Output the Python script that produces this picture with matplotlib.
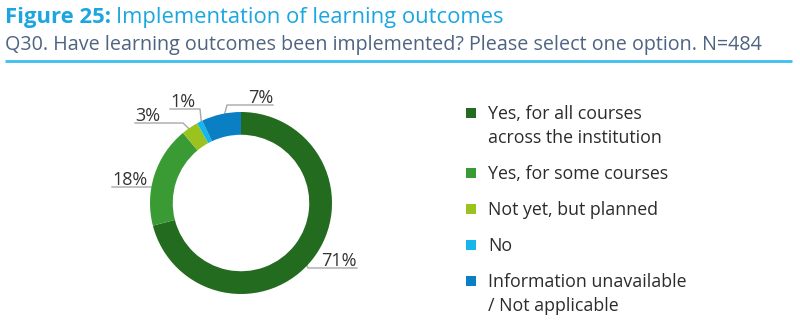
import matplotlib
matplotlib.use("Agg")
import numpy as np
import matplotlib.pyplot as plt
from matplotlib.patches import Rectangle

plt.rcParams['font.family'] = ['Open Sans', 'DejaVu Sans']

# survey answers, share of institutions in %
categories = ["Yes, for all courses\nacross the institution",
              "Yes, for some courses",
              "Not yet, but planned",
              "No",
              "Information unavailable\n/ Not applicable"]
shares = [71, 18, 3, 1, 7]
labels = ["71%", "18%", "3%", "1%", "7%"]
colors = ["#226b1f", "#3a9b35", "#9bc31f", "#14b6ec", "#0a7fc4"]

W, H = 800, 331
fig = plt.figure(figsize=(W / 100, H / 100), dpi=100)

# overlay in pixel coordinates for the header and the legend
bg = fig.add_axes([0, 0, 1, 1])
bg.set_xlim(0, W)
bg.set_ylim(H, 0)
bg.axis('off')

# donut: radius 1 == 91 px, centred at (241, 203)
R = 91
cx, cy = 241, 203
side = 4 * R
ax = fig.add_axes([(cx - side / 2) / W, (H - cy - side / 2) / H, side / W, side / H])
wedges, _ = ax.pie(shares, colors=colors, startangle=90, counterclock=False,
                   radius=1, wedgeprops=dict(width=0.25, linewidth=0))
ax.set_xlim(-2, 2)
ax.set_ylim(-2, 2)
ax.set_aspect('equal')
ax.axis('off')

# label layout: outer end of the underline (px), underline length, anchor radius
label_pos = [(357, 268, 49, 0.82), (112, 187, 45, 0.9), (135, 123, 48, 0.93),
             (170, 109, 30, 0.95), (273, 105, 46, 0.92)]
for w, lab, (x_end, y_line, length, r_anchor) in zip(wedges, labels, label_pos):
    ang = np.deg2rad((w.theta1 + w.theta2) / 2)
    axp = cx + r_anchor * R * np.cos(ang)
    ayp = cy - r_anchor * R * np.sin(ang)
    if x_end > cx:
        x_in = x_end - length
        ha = 'right'
    else:
        x_in = x_end + length
        ha = 'left'
    bg.plot([x_end, x_in, axp], [y_line, y_line, ayp], color="#a8a8a8", lw=1, zorder=5)
    bg.text(x_end, y_line - 2, lab, ha=ha, va='baseline', fontsize=13, color="#333333")

# legend
y = 113
for c, cat in zip(colors, categories):
    bg.add_patch(Rectangle((466, y - 5), 10, 10, color=c, lw=0))
    for line in cat.split("\n"):
        bg.text(488, y + 6, line, ha='left', va='baseline', fontsize=12.8, color="#2b2b2b")
        y += 24
    y += 12

# header
t1 = bg.text(5, 23, "Figure 25:", fontsize=15.8, fontweight='bold', color="#1ba6e0", va='baseline')
fig.canvas.draw()
bb = t1.get_window_extent()
bg.text(5 + bb.width + 5, 23, "Implementation of learning outcomes", fontsize=15.8,
        color="#1ba6e0", va='baseline')
bg.text(5, 50, "Q30. Have learning outcomes been implemented? Please select one option. N=484",
        fontsize=14.2, color="#4e6480", va='baseline')
bg.plot([5, 792], [61, 61], color="#3cc0f0", lw=2, solid_capstyle='butt')

fig.savefig("out.png", dpi=100)
